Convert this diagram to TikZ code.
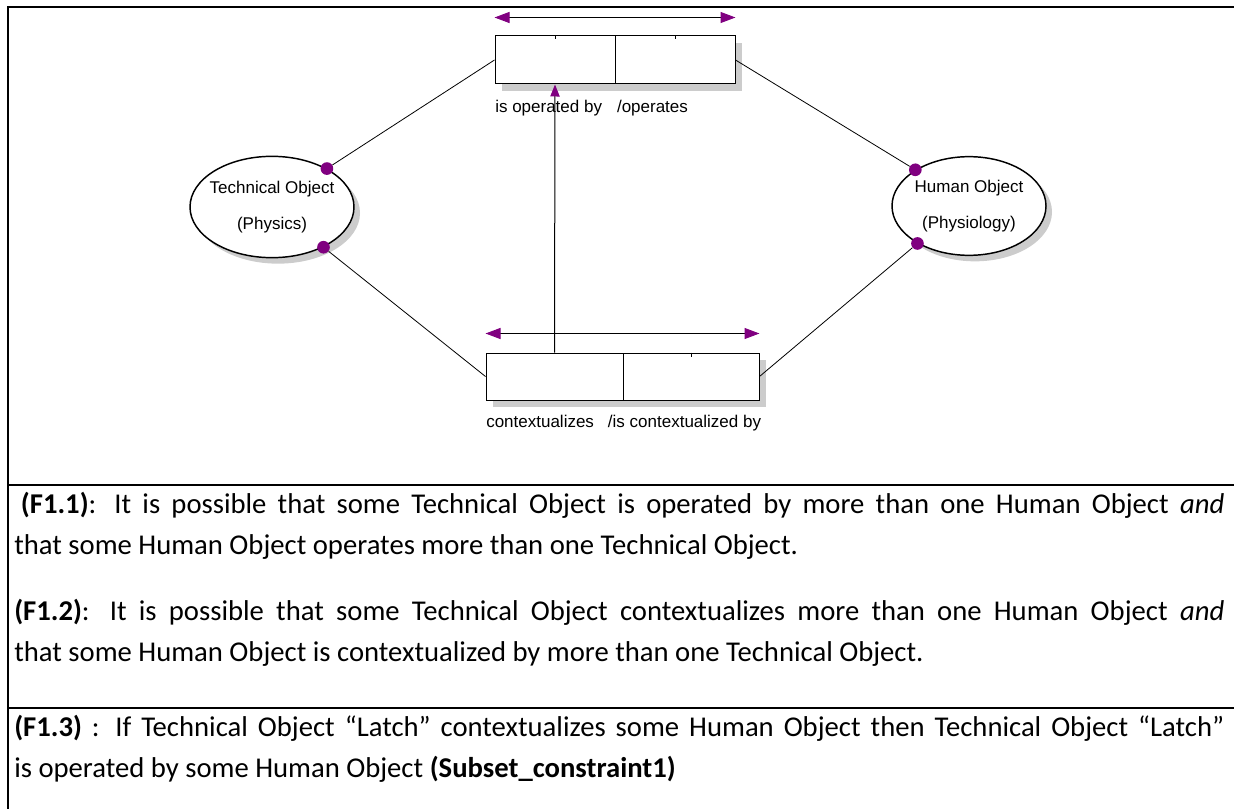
\documentclass[tikz,border=0pt]{standalone}
\usepackage{fontspec}
\setmainfont{Carlito}
\newfontfamily\diagfont{Liberation Sans}
\usetikzlibrary{shapes.geometric,arrows.meta,shadows}
\definecolor{vio}{RGB}{128,0,128}
\definecolor{shade}{RGB}{204,204,204}
\begin{document}
\begin{tikzpicture}[x=0.75pt,y=-0.75pt,
  frame/.style={line width=1.8pt},
  rolebox/.style={draw, line width=0.75pt, fill=white, inner sep=0pt,
    drop shadow={shadow xshift=5pt,shadow yshift=-5pt,fill=shade,opacity=1}},
  objell/.style={ellipse, draw, line width=1.1pt, fill=white, inner sep=0pt,
    drop shadow={shadow xshift=4.5pt,shadow yshift=-4.5pt,fill=shade,opacity=1}},
  dlabel/.style={font=\diagfont\fontsize{12.75}{27}\selectfont, inner sep=0pt},
  dot/.style={circle, fill=vio, inner sep=0pt, minimum size=9.5pt},
  conn/.style={line width=0.6pt},
  biarrow/.style={line width=0.75pt,
    {Triangle[length=11.25pt,width=8.25pt,color=vio]}-{Triangle[length=11.25pt,width=8.25pt,color=vio]}},
  uparrow/.style={line width=0.75pt, -{Triangle[length=9pt,width=7pt,color=vio]}},
  body/.style={font=\fontsize{21.5}{30}\selectfont, inner sep=0pt, anchor=base west},
]
\useasboundingbox (0,0) rectangle (1234,809);
% table frame
\draw[frame] (8,809) -- (8,7) -- (1234,7);
\draw[frame] (8,485) -- (1234,485);
\draw[frame] (8,708) -- (1234,708);

% fact type boxes
\node[rolebox, minimum width=90pt, minimum height=36pt] (opL) at (555,60) {};
\node[rolebox, minimum width=90pt, minimum height=36pt] (opR) at (675,60) {};
\node[rolebox, minimum width=102.75pt, minimum height=35.25pt] (ctxL) at (554.5,376.5) {};
\node[rolebox, minimum width=102pt, minimum height=35.25pt] (ctxR) at (691,376.5) {};

% small ticks
\draw[line width=0.6pt] (opL.north) -- ++(0,4);
\draw[line width=0.6pt] (opR.north) -- ++(0,4);
\draw[line width=0.6pt] (ctxR.north) -- ++(0,4);

% uniqueness arrows
\draw[biarrow] ([yshift=13.5pt]opL.north west) -- ([yshift=13.5pt]opR.north east);
\draw[biarrow] ([yshift=14.25pt]ctxL.north west) -- ([yshift=14.25pt]ctxR.north east);

% subset arrow
\draw[uparrow] (ctxL.north) -- (opL.south);

% labels
\node[dlabel, anchor=west] (oplab) at (495,108) {is operated by\hspace{11.25pt}/operates};
\node[dlabel, anchor=west] (ctxlab) at (486,423) {contextualizes\hspace{10.5pt}/is contextualized by};

% object types
\node[objell, minimum width=123pt, minimum height=76pt] (tech) at (272,207) {};
\node[dlabel, align=center] (techtxt) at (tech.center) {Technical Object\\(Physics)};
\node[objell, minimum width=115.5pt, minimum height=74pt] (hum) at (969,206) {};
\node[dlabel, align=center] (humtxt) at (hum.center) {Human Object\\(Physiology)};

% role dots
\node[dot] (tdu) at (tech.35) {};
\node[dot] (tdl) at (tech.-38) {};
\node[dot] (hdu) at (hum.146) {};
\node[dot] (hdl) at (hum.-144) {};

% connectors
\draw[conn] (opL.west) -- (tdu);
\draw[conn] (opR.east) -- (hdu);
\draw[conn] (ctxL.west) -- (tdl);
\draw[conn] (ctxR.east) -- (hdl);

% facts
\node[body] (f11a) at (14,513) {\makebox[907.5pt][s]{\hspace{5pt}\textbf{(F1.1)}: It is possible that some Technical Object is operated by more than one Human Object \textit{and}}};
\node[body] (f11b) at (14,554) {that some Human Object operates more than one Technical Object.};
\node[body] (f12a) at (14,620) {\makebox[907.5pt][s]{\textbf{(F1.2)}: It is possible that some Technical Object contextualizes more than one Human Object \textit{and}}};
\node[body] (f12b) at (14,661) {that some Human Object is contextualized by more than one Technical Object.};
\node[body] (f13a) at (14,736) {\makebox[907.5pt][s]{\textbf{(F1.3)} : If Technical Object “Latch” contextualizes some Human Object then Technical Object “Latch”}};
\node[body] (f13b) at (14,777) {is operated by some Human Object \textbf{(Subset\_constraint1)}};
\end{tikzpicture}
\end{document}
